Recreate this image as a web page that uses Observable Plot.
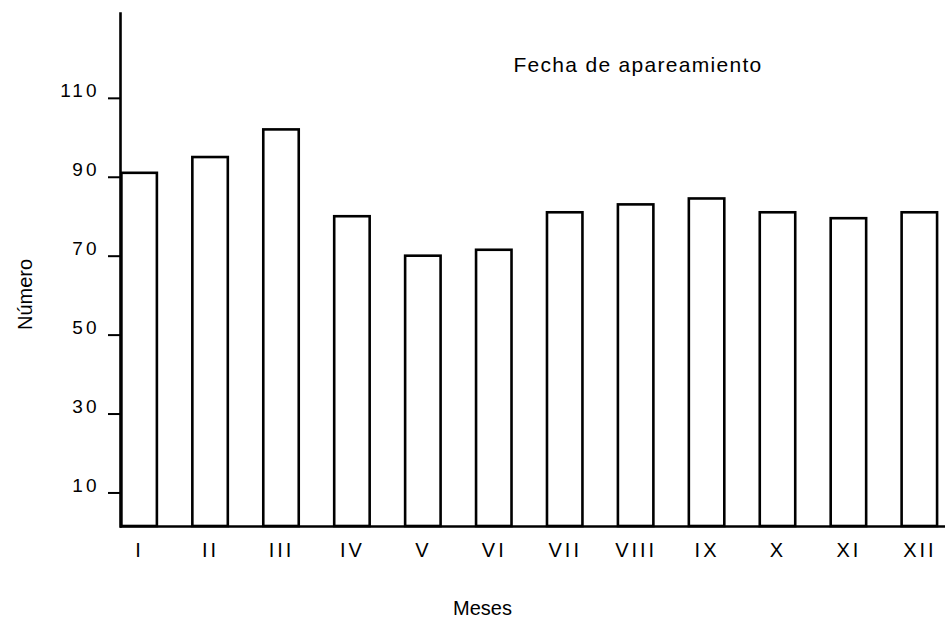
<!DOCTYPE html>
<html>
<head>
<meta charset="utf-8">
<script src="https://cdn.jsdelivr.net/npm/d3@7"></script>
<script src="https://cdn.jsdelivr.net/npm/@observablehq/plot@0.6"></script>
<style>
  body { margin: 0; background: #fff; }
  #chart svg { display: block; }
  #chart text { font-family: "Liberation Sans", Arial, Helvetica, sans-serif; }
  g[aria-label="y-axis tick label"] text { letter-spacing: 3px; }
  g[aria-label="x-axis tick label"] text { letter-spacing: 3px; }
</style>
</head>
<body>
<div id="chart"></div>
<script>
// Data
const months = ["I", "II", "III", "IV", "V", "VI", "VII", "VIII", "IX", "X", "XI", "XII"];
const counts = [91, 95, 102, 80, 70, 71.5, 81, 83, 84.5, 81, 79.5, 81];
const yTicks = [10, 30, 50, 70, 90, 110];
const yMin = 1.5;
const yMax = 131.5;
const titleText = "Fecha de apareamiento";
const xLabel = "Meses";
const yLabel = "Número";

const data = months.map((m, i) => ({ month: m, count: counts[i] }));

const chart = Plot.plot({
  width: 945,
  height: 619,
  marginLeft: 120,
  marginRight: 0,
  marginTop: 13,
  marginBottom: 93,
  style: { background: "white", color: "black", fontFamily: "'Liberation Sans', Arial, sans-serif" },
  x: { domain: months, range: [120, 938.5], paddingInner: 0.5, paddingOuter: 0.02, round: false, label: null },
  y: { domain: [yMin, yMax], label: null },
  marks: [
    Plot.barY(data, { x: "month", y1: yMin, y2: "count", fill: "white", stroke: "black", strokeWidth: 2.6 }),
    Plot.ruleY([yMin], { stroke: "black", strokeWidth: 2.6 }),
    Plot.frame({ anchor: "left", stroke: "black", strokeWidth: 2.6 }),
    Plot.axisY({ ticks: yTicks, tickSize: 12, fill: "none", stroke: "black", strokeWidth: 2, label: null }),
    Plot.axisY({ ticks: yTicks, tickSize: 0, tickPadding: 21, dy: -7, fontSize: 19, fill: "black", label: null }),
    Plot.axisX({ tickSize: 0, tickPadding: 16.5, fontSize: 20, fill: "black", label: null }),
    Plot.text([titleText], { frameAnchor: "top-left", dx: 517.5, dy: 58.7, lineAnchor: "bottom", textAnchor: "middle", fontSize: 21, fill: "black" }),
    Plot.text([xLabel], { frameAnchor: "bottom", dx: -50.5, dy: 88.5, lineAnchor: "bottom", textAnchor: "middle", fontSize: 20, fill: "black" }),
    Plot.text([yLabel], { frameAnchor: "left", rotate: -90, dx: -89, dy: 24.5, lineAnchor: "bottom", textAnchor: "middle", fontSize: 20, fill: "black" })
  ]
});

d3.select(chart).selectAll("text")
  .filter(function () { return this.textContent === titleText; })
  .style("letter-spacing", "1.3px");

document.getElementById("chart").append(chart);
</script>
</body>
</html>
